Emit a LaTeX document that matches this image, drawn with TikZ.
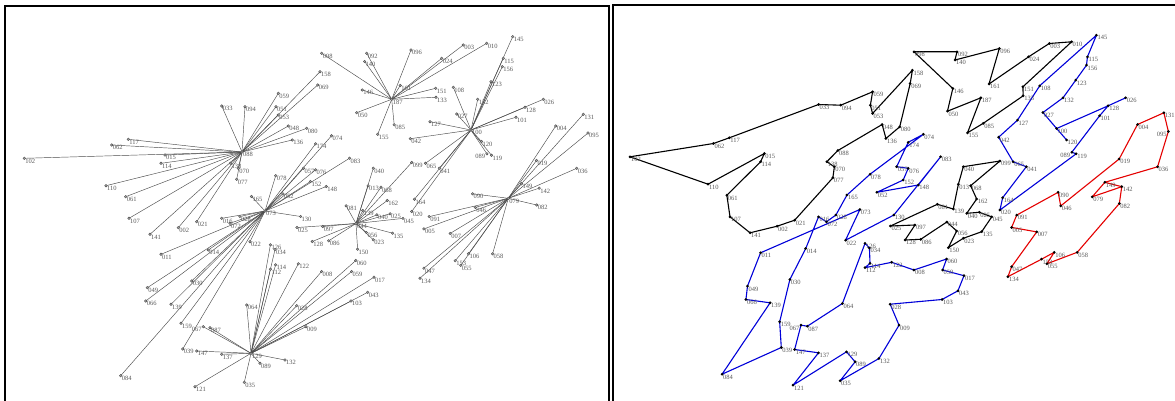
\documentclass[tikz,border=0pt]{standalone}
\usepackage{fontspec}
\setmainfont{Liberation Serif}
\newcommand\mkpt[4]{%
  \coordinate (L#1) at (#3,#4);
  \coordinate (R#1) at ({606.8+0.955*(#3)},{(#4)-1.5});
  \expandafter\gdef\csname labx#1\endcsname{#2}}
\expandafter\def\csname lftR095\endcsname{}
\expandafter\def\csname lftR089b\endcsname{}
\expandafter\def\csname lftL089b\endcsname{}
\expandafter\def\csname lftR067\endcsname{}
\expandafter\def\csname lftL067\endcsname{}
\begin{document}
\begin{tikzpicture}[x=1pt,y=-1pt,
  spoke/.style={draw=black!70, line width=0.45pt},
  tourK/.style={draw=black, line width=1.1pt, line join=round},
  tourB/.style={draw=blue!85!black, line width=1.1pt, line join=round},
  tourR/.style={draw=red!90!black, line width=1.1pt, line join=round},
  lab/.style={font=\fontsize{6.5}{7}\selectfont, text=black!65, anchor=north west, inner sep=0.3pt, xshift=0.6pt},
  labl/.style={lab, anchor=north east, xshift=-1.8pt},
  frame/.style={line width=1.8pt}]
\useasboundingbox (0,0) rectangle (1175,401);
\fill[white] (0,0) rectangle (1175,401);
\draw[frame] (5,402) -- (5,6) -- (609,6) -- (609,402);
\draw[frame] (613,402) -- (613,5) -- (1176,5);
% hubs
\mkpt{088}{088}{242}{152}
\mkpt{073}{073}{265}{211}
\mkpt{129}{129}{251}{353.3}
\mkpt{044}{044}{356}{223.5}
\mkpt{079}{079}{508.3}{198.3}
\mkpt{187}{187}{391.7}{99.3}
\mkpt{100}{100}{471}{130}
% group A
\mkpt{102}{102}{24.3}{158.3}
\mkpt{117}{117}{128.3}{139.3}
\mkpt{062}{062}{111.7}{145}
\mkpt{015}{015}{165}{155}
\mkpt{114}{114}{161}{163.3}
\mkpt{110}{110}{106}{185.7}
\mkpt{061}{061}{125.7}{196.7}
\mkpt{107}{107}{129}{218.3}
\mkpt{141}{141}{150}{234.3}
\mkpt{002}{002}{178.3}{227.7}
\mkpt{021}{021}{196.7}{221.7}
\mkpt{033}{033}{221.7}{106}
\mkpt{094}{094}{245}{106.7}
\mkpt{059}{059}{278.3}{93.3}
\mkpt{051}{051}{276}{106.7}
\mkpt{053}{053}{278.3}{115}
\mkpt{048}{048}{288.3}{126}
\mkpt{080}{080}{306.7}{128.3}
\mkpt{136}{136}{292.3}{140}
\mkpt{158}{158}{320}{71.7}
\mkpt{069}{069}{317.7}{85}
\mkpt{070}{070}{238.3}{168.3}
\mkpt{077}{077}{236.7}{179.3}
\mkpt{138}{138}{230.4}{163.2}
% group B
\mkpt{011}{011}{161}{254.3}
\mkpt{049}{049}{147.3}{287.7}
\mkpt{066}{066}{145.7}{301}
\mkpt{030}{030}{191.7}{281}
\mkpt{139}{139}{171}{304.3}
\mkpt{159}{159}{181}{323.3}
\mkpt{039}{039}{182.7}{349}
\mkpt{084}{084}{120.7}{375.7}
\mkpt{014}{014}{208.3}{250}
\mkpt{022}{022}{250}{241.7}
\mkpt{016}{016}{221.7}{218.3}
\mkpt{072}{072}{230}{223.3}
\mkpt{029}{028}{239.9}{216.5}
\mkpt{165}{165}{251.5}{196.5}
\mkpt{078}{078}{275.7}{175.7}
\mkpt{057}{057}{303.5}{168.2}
\mkpt{076}{076}{315.6}{169.8}
\mkpt{083}{083}{349.6}{158.2}
\mkpt{074}{074}{331.5}{135.8}
\mkpt{176}{174}{315.6}{143.8}
\mkpt{152}{152}{310.4}{181.5}
\mkpt{148}{148}{326.2}{186.5}
\mkpt{052}{052}{282.8}{193.8}
\mkpt{130}{130}{300.6}{216.5}
% group C
\mkpt{147}{147}{196.7}{351}
\mkpt{137}{137}{221.7}{354.3}
\mkpt{121}{121}{195}{386.7}
\mkpt{035}{035}{244.3}{382.3}
\mkpt{132}{132}{285}{360}
\mkpt{089}{089}{260}{363.3}
\mkpt{087}{087}{210}{327.7}
\mkpt{067}{067}{203.3}{326.7}
\mkpt{064}{064}{246.7}{305}
\mkpt{126}{126}{270.4}{244.8}
\mkpt{034}{034}{275}{249.5}
\mkpt{116}{114}{275.6}{264.8}
\mkpt{112}{112}{270.4}{269.2}
\mkpt{122}{122}{298.3}{263.8}
\mkpt{008}{008}{321.6}{271.5}
\mkpt{060}{060}{355.8}{260.5}
\mkpt{018}{059}{351.6}{271.5}
\mkpt{017}{017}{374}{277.2}
\mkpt{043}{043}{367.7}{292.3}
\mkpt{103}{103}{351}{301}
\mkpt{028}{028}{296.7}{305.7}
\mkpt{009}{009}{306}{326.7}
% group D
\mkpt{081}{081}{346.1}{205.8}
\mkpt{139b}{139}{362.8}{210.5}
\mkpt{013}{013}{368.1}{185.8}
\mkpt{068}{068}{381}{187.2}
\mkpt{150}{150}{357.6}{249.2}
\mkpt{023}{023}{373.3}{239.8}
\mkpt{056}{056}{366.4}{232.5}
\mkpt{086}{086}{328.7}{240.8}
\mkpt{125}{128}{312.3}{241.5}
\mkpt{097}{097}{322.7}{226.5}
\mkpt{025}{025}{297}{227.5}
\mkpt{162}{162}{387.3}{200.5}
\mkpt{040}{040}{373.3}{168.2}
\mkpt{040b}{040}{376.9}{214.8}
\mkpt{026b}{025}{390.1}{213.8}
\mkpt{135}{135}{392.6}{233.2}
\mkpt{045}{045}{403}{218.4}
\mkpt{099}{099}{411.7}{162.5}
% group E
\mkpt{082}{082}{536.7}{205}
\mkpt{090}{090}{472.6}{193.8}
\mkpt{046}{046}{475.3}{207.4}
\mkpt{091}{091}{429.2}{216.6}
\mkpt{005}{005}{423.9}{228.9}
\mkpt{007}{007}{450.2}{233.4}
\mkpt{106}{106}{468.5}{253.8}
\mkpt{058}{058}{492.6}{253.8}
\mkpt{153}{153}{455.2}{260.7}
\mkpt{055}{055}{460.8}{265.3}
\mkpt{047}{047}{423.9}{268.2}
\mkpt{134}{134}{420}{278.2}
\mkpt{142}{142}{539.2}{188.2}
\mkpt{149}{149}{521.5}{183.8}
\mkpt{036}{036}{576.7}{168.3}
\mkpt{019}{019}{536.5}{160.5}
\mkpt{004}{004}{555.7}{126}
\mkpt{131}{131}{583.3}{114.3}
\mkpt{095}{095}{588}{133}
% group F
\mkpt{098}{098}{321.7}{53.3}
\mkpt{092}{092}{366.7}{53.3}
\mkpt{140}{140}{364.6}{61.5}
\mkpt{146}{146}{362.3}{90}
\mkpt{050}{050}{356.7}{112.7}
\mkpt{155}{155}{377.7}{134.3}
\mkpt{096}{096}{411}{50}
\mkpt{003}{003}{463.3}{45}
\mkpt{010}{010}{486.7}{43.3}
\mkpt{024}{024}{441.7}{58.3}
\mkpt{151}{151}{435.7}{88.3}
\mkpt{133}{133}{436}{97.3}
\mkpt{085}{085}{394.2}{124.8}
\mkpt{161}{161}{400.2}{85.5}
% group G
\mkpt{145}{145}{512.7}{36.7}
\mkpt{115}{115}{503.3}{58.3}
\mkpt{156}{156}{502.3}{66.7}
\mkpt{123}{123}{491}{81.7}
\mkpt{132b}{132}{477.7}{99.3}
\mkpt{108}{108}{453.3}{87.3}
\mkpt{027}{027}{456.7}{114}
\mkpt{127}{127}{430}{121.7}
\mkpt{042}{042}{410.3}{138.7}
\mkpt{120}{120}{481.5}{141.5}
\mkpt{119}{119}{491.5}{155.3}
\mkpt{089b}{089}{486.9}{153.8}
\mkpt{065}{065}{425.5}{163.3}
\mkpt{041}{041}{439.3}{168.2}
\mkpt{164}{164}{414.5}{199.2}
\mkpt{026}{026}{543.3}{99.3}
\mkpt{128}{128}{525}{107.3}
\mkpt{101}{101}{516}{117.3}
\mkpt{020}{020}{411.7}{211.5}
% ---------- left panel spokes
\foreach \p in {102,117,062,015,114,110,061,107,141,002,021,033,094,059,051,053,048,080,136,158,069,070,077,138}
  \draw[spoke] (L088) -- (L\p);
\foreach \p in {011,049,066,030,139,159,039,084,014,022,016,072,029,165,078,057,076,083,074,176,152,148,052,130}
  \draw[spoke] (L073) -- (L\p);
\foreach \p in {147,137,121,035,132,089,087,067,064,126,034,116,112,122,008,060,018,017,043,103,028,009}
  \draw[spoke] (L129) -- (L\p);
\foreach \p in {081,139b,013,068,150,023,056,086,125,097,025,162,040,040b,026b,135,045,099}
  \draw[spoke] (L044) -- (L\p);
\foreach \p in {082,090,046,091,005,007,106,058,153,055,047,134,142,149,036,019,004,131,095}
  \draw[spoke] (L079) -- (L\p);
\foreach \p in {098,092,140,146,050,155,096,003,010,024,151,133,085,161}
  \draw[spoke] (L187) -- (L\p);
\foreach \p in {145,115,156,123,132b,108,027,127,042,120,119,089b,065,041,164,026,128,101,020}
  \draw[spoke] (L100) -- (L\p);
% ---------- right panel tours
\draw[tourK] (R088) -- (R048) -- (R136) -- (R080) -- (R069) -- (R158) -- (R053) -- (R051) -- (R059) -- (R094) -- (R033) -- (R117) -- (R062) -- (R102) -- (R110) -- (R015) -- (R114) -- (R061) -- (R107) -- (R141) -- (R002) -- (R021) -- (R077) -- (R070) -- (R138) -- (R088);
\draw[tourK] (R187) -- (R050) -- (R146) -- (R098) -- (R092) -- (R140) -- (R096) -- (R161) -- (R024) -- (R003) -- (R010) -- (R151) -- (R133) -- (R085) -- (R155) -- (R187);
\draw[tourK] (R044) -- (R086) -- (R125) -- (R097) -- (R025) -- (R081) -- (R139b) -- (R013) -- (R040) -- (R099) -- (R068) -- (R162) -- (R040b) -- (R026b) -- (R045) -- (R135) -- (R023) -- (R150) -- (R056) -- (R044);
\draw[tourB] (R073) -- (R011) -- (R049) -- (R066) -- (R139) -- (R084) -- (R039) -- (R159) -- (R030) -- (R014) -- (R016) -- (R072) -- (R029) -- (R165) -- (R078) -- (R074) -- (R176) -- (R057) -- (R076) -- (R152) -- (R052) -- (R148) -- (R083) -- (R130) -- (R022) -- (R073);
\draw[tourB] (R129) -- (R089) -- (R035) -- (R132) -- (R009) -- (R028) -- (R103) -- (R043) -- (R017) -- (R018) -- (R060) -- (R008) -- (R122) -- (R112) -- (R116) -- (R034) -- (R126) -- (R064) -- (R087) -- (R067) -- (R147) -- (R137) -- (R121) -- (R129);
\draw[tourB] (R120) -- (R100) -- (R027) -- (R132b) -- (R123) -- (R156) -- (R115) -- (R145) -- (R108) -- (R127) -- (R042) -- (R065) -- (R041) -- (R164) -- (R020) -- (R119) -- (R089b) -- (R101) -- (R128) -- (R026) (R128) -- (R100);
\draw[tourR] (R131) -- (R004) -- (R019) -- (R046) -- (R090) -- (R091) -- (R005) -- (R007) -- (R047) -- (R134) -- (R153) -- (R106) -- (R055) -- (R058) -- (R082) -- (R142) -- (R079) -- (R149) -- (R036) -- (R095) -- (R131);
\draw[tourR] (R149) -- (R142);
% ---------- markers and labels
\foreach \n in {088,073,129,044,079,187,100,102,117,062,015,114,110,061,107,141,002,021,033,094,059,051,053,048,080,136,158,069,070,077,138,011,049,066,030,139,159,039,084,014,022,016,072,029,165,078,057,076,083,074,176,152,148,052,130,147,137,121,035,132,089,087,067,064,126,034,116,112,122,008,060,018,017,043,103,028,009,081,139b,013,068,150,023,056,086,125,097,025,162,040,040b,026b,135,045,099,082,090,046,091,005,007,106,058,153,055,047,134,142,149,036,019,004,131,095,098,092,140,146,050,155,096,003,010,024,151,133,085,161,145,115,156,123,132b,108,027,127,042,120,119,089b,065,041,164,026,128,101,020}{
  \draw[black!70, fill=black!35, line width=0.4pt] (L\n) circle (1.3pt);
  \ifcsname lftL\n\endcsname
    \node[labl] (tl\n) at (L\n) {\csname labx\n\endcsname};
  \else
    \node[lab] (tl\n) at (L\n) {\csname labx\n\endcsname};
  \fi
  \fill[black] (R\n) circle (1.5pt);
  \ifcsname lftR\n\endcsname
    \node[labl] (tr\n) at (R\n) {\csname labx\n\endcsname};
  \else
    \node[lab] (tr\n) at (R\n) {\csname labx\n\endcsname};
  \fi
}
\end{tikzpicture}
\end{document}
